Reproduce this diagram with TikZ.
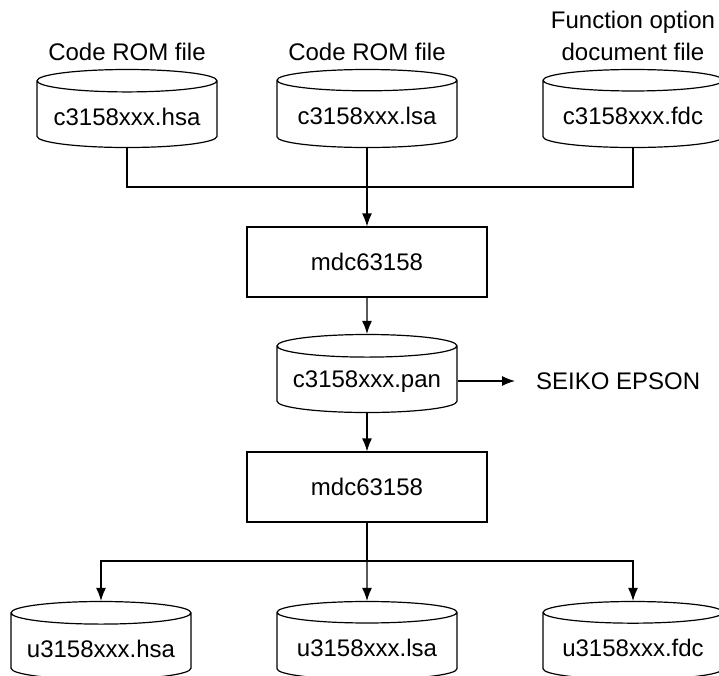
\documentclass[tikz,border=0pt]{standalone}
\usepackage{fontspec}
\setmainfont{Liberation Sans}
\usetikzlibrary{shapes.geometric,arrows.meta,positioning}

\begin{document}
\begin{tikzpicture}[
    x=0.5pt, y=-0.5pt,
    node distance=20pt,
    every node/.style={font=\fontsize{12}{16}\selectfont},
    disk/.style={cylinder, shape border rotate=90, aspect=0.14, draw, line width=0.6pt,
                 minimum width=90pt, minimum height=39pt},
    prog/.style={rectangle, draw, line width=0.6pt, minimum width=120pt, minimum height=35pt},
    arrow/.style={-{Latex[length=6.5pt,width=5pt]}, line width=0.6pt},
    link/.style={line width=0.6pt}
]
    \useasboundingbox (0,0) rectangle (719,676);

    % source files
    \node[disk, anchor=shape center] (hsa) at (127,108.5) {c3158xxx.hsa};
    \node[disk, anchor=shape center] (lsa) at (367,108.5) {c3158xxx.lsa};
    \node[disk, anchor=shape center] (fdc) at (633,108.5) {c3158xxx.fdc};
    \node (romhsa) at (127,52) {Code ROM file};
    \node (romlsa) at (367,52) {Code ROM file};
    \node[align=center] (optfdc) at (633,36) {Function option\\document file};

    % tools and output
    \node[prog] (mdcone) at (367,262) {mdc63158};
    \node[disk, anchor=shape center] (pan) at (367,373.5) {c3158xxx.pan};
    \node[anchor=west] (epson) at (529,381) {SEIKO EPSON};
    \node[prog] (mdctwo) at (367,487) {mdc63158};

    \node[disk, anchor=shape center] (uhsa) at (101,640.5) {u3158xxx.hsa};
    \node[disk, anchor=shape center] (ulsa) at (367,640.5) {u3158xxx.lsa};
    \node[disk, anchor=shape center] (ufdc) at (633,640.5) {u3158xxx.fdc};

    \coordinate (join) at (367,187);
    \coordinate (split) at (367,561);

    \draw[link] (hsa.south) |- (join) -| (fdc.south);
    \draw[arrow] (lsa.south) -- (mdcone.north);
    \draw[arrow] (mdcone) -- (pan);
    \draw[arrow] (pan.east |- epson.west) -- ([xshift=-7pt]epson.west);
    \draw[arrow] (pan) -- (mdctwo);
    \draw[link] (mdctwo.south) -- (split);
    \draw[arrow] (split) -| (uhsa.north);
    \draw[arrow] (split) -- (ulsa.north);
    \draw[arrow] (split) -| (ufdc.north);
\end{tikzpicture}
\end{document}
